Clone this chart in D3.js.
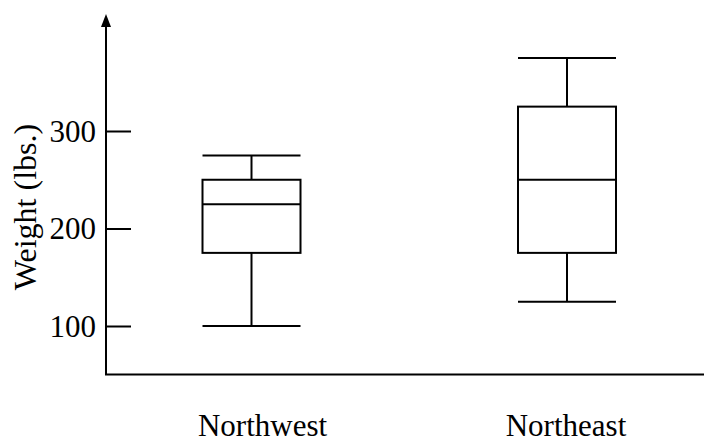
<!DOCTYPE html>
<html><head><meta charset="utf-8">
<script src="https://cdn.jsdelivr.net/npm/d3@7"></script>
<style>body{margin:0;background:#fff}svg{display:block}text{font-family:"Liberation Serif","Times New Roman",serif;fill:#000}</style>
</head><body>
<script>
const categories = ["Northwest", "Northeast"];
const whiskerLow = [100, 125];
const q1 = [175, 175];
const median = [225, 250];
const q3 = [250, 325];
const whiskerHigh = [275, 375];
const yTicks = [100, 200, 300];

const W = 704, H = 442;
const svg = d3.select("body").append("svg").attr("width", W).attr("height", H);
const axisX = 106, axisY = 374.5;
const FS = 31;

const y = d3.scaleLinear().domain([100, 300]).range([326, 131]);
const x = d3.scalePoint().domain(categories).range([251.5, 567]);
const xLab = d3.scalePoint().domain(categories).range([262.5, 566]);
const boxW = 98;

// y axis line with arrow
svg.append("line").attr("x1",axisX).attr("x2",axisX).attr("y1",axisY).attr("y2",26)
  .attr("stroke","#000").attr("stroke-width",2);
svg.append("path").attr("d",`M${axisX-5},${27}L${axisX},${14}L${axisX+5},${27}Z`).attr("fill","#000");
// x axis line
svg.append("line").attr("x1",axisX-1).attr("x2",W).attr("y1",axisY).attr("y2",axisY)
  .attr("stroke","#000").attr("stroke-width",2);

// ticks via axis
const ax = svg.append("g").attr("transform",`translate(${axisX},0)`)
  .call(d3.axisRight(y).tickValues(yTicks).tickSize(25).tickFormat(""));
ax.select(".domain").remove();
ax.selectAll(".tick line").attr("stroke","#000").attr("stroke-width",2);
svg.selectAll(".ylab").data(yTicks).join("text").attr("class","ylab")
  .attr("x",axisX-10).attr("y",d=>y(d)).attr("dy","0.34em").attr("text-anchor","end")
  .attr("font-size",FS).text(d=>d);

// y title
svg.append("text").attr("transform","translate(36,207) rotate(-90)")
  .attr("text-anchor","middle").attr("font-size",32).text("Weight (lbs.)");

// boxes
const data = categories.map((c,i)=>({c, lo:whiskerLow[i], q1:q1[i], med:median[i], q3:q3[i], hi:whiskerHigh[i]}));
const g = svg.selectAll(".box").data(data).join("g").attr("class","box")
  .attr("stroke","#000").attr("stroke-width",2).attr("fill","none");
g.append("line").attr("x1",d=>x(d.c)).attr("x2",d=>x(d.c)).attr("y1",d=>y(d.hi)).attr("y2",d=>y(d.q3));
g.append("line").attr("x1",d=>x(d.c)).attr("x2",d=>x(d.c)).attr("y1",d=>y(d.q1)).attr("y2",d=>y(d.lo));
g.append("line").attr("x1",d=>x(d.c)-boxW/2).attr("x2",d=>x(d.c)+boxW/2).attr("y1",d=>y(d.hi)).attr("y2",d=>y(d.hi));
g.append("line").attr("x1",d=>x(d.c)-boxW/2).attr("x2",d=>x(d.c)+boxW/2).attr("y1",d=>y(d.lo)).attr("y2",d=>y(d.lo));
g.append("rect").attr("x",d=>x(d.c)-boxW/2).attr("width",boxW).attr("y",d=>y(d.q3)).attr("height",d=>y(d.q1)-y(d.q3));
g.append("line").attr("x1",d=>x(d.c)-boxW/2).attr("x2",d=>x(d.c)+boxW/2).attr("y1",d=>y(d.med)).attr("y2",d=>y(d.med));

// category labels
svg.selectAll(".xlab").data(categories).join("text").attr("class","xlab")
  .attr("x",d=>xLab(d)).attr("y",436).attr("text-anchor","middle").attr("font-size",FS).text(d=>d);
</script>
</body></html>
